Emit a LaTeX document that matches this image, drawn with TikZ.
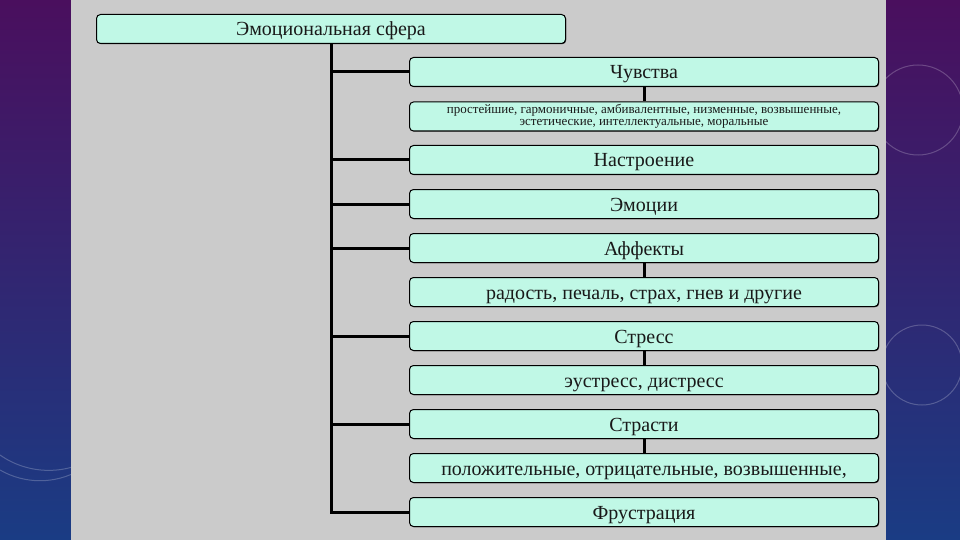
\documentclass[tikz,border=0pt]{standalone}
\usepackage{fontspec}
\setmainfont{Liberation Serif}
\usetikzlibrary{shadows}
\definecolor{bgtop}{HTML}{4A0F5E}
\definecolor{bgbot}{HTML}{1A3C84}
\definecolor{panel}{HTML}{CBCBCB}
\definecolor{mint}{HTML}{C0F8E6}
\tikzset{
  basebox/.style={draw=black, line width=1pt, fill=mint, rounded corners=4pt,
    minimum width=469pt, minimum height=29pt, inner sep=0pt, anchor=north west,
    text=black!90,
    drop shadow={shadow xshift=0.7pt, shadow yshift=-0.7pt, opacity=0.8, fill=black}},
  box/.style={basebox, font=\fontsize{20}{21}\selectfont, text height=14pt, text depth=0pt},
  smallbox/.style={basebox, font=\fontsize{13}{12.5}\selectfont, align=center, yshift=-0.5pt},
  conn/.style={line width=3pt, draw=black},
  deco/.style={draw=white, opacity=0.22, line width=1pt}
}
\begin{document}
\begin{tikzpicture}[x=1pt,y=-1pt]
\useasboundingbox (0,0) rectangle (960,540);
\shade[top color=bgtop, bottom color=bgbot] (0,0) rectangle (960,540);
\draw[deco] (918,110) circle (45);
\draw[deco] (922,365) circle (40);
\draw[deco] (0,470) arc (120:60:80);
\draw[deco] (0,455) arc (125:55:85);
\fill[panel] (71,0) rectangle (886,540);

\node[box] (top) at (96,14) {Эмоциональная сфера};
\node[box] (ch) at (409,57) {Чувства};
\node[smallbox] (chs) at (409,101) {простейшие, гармоничные, амбивалентные, низменные, возвышенные,\\эстетические, интеллектуальные, моральные};
\node[box] (na) at (409,145) {Настроение};
\node[box] (em) at (409,189) {Эмоции};
\node[box] (af) at (409,233) {Аффекты};
\node[box] (afs) at (409,277) {радость, печаль, страх, гнев и другие};
\node[box] (st) at (409,321) {Стресс};
\node[box] (sts) at (409,365) {эустресс, дистресс};
\node[box] (sr) at (409,409) {Страсти};
\node[box] (srs) at (409,453) {положительные, отрицательные, возвышенные,};
\node[box] (fr) at (409,497) {Фрустрация};

\draw[conn] (top.south) |- (fr.west);
\foreach \n in {ch,na,em,af,st,sr}{
  \draw[conn] (top.south |- \n.west) -- (\n.west);
}
\draw[conn] (ch.south) -- (chs.north);
\draw[conn] (af.south) -- (afs.north);
\draw[conn] (st.south) -- (sts.north);
\draw[conn] (sr.south) -- (srs.north);
\end{tikzpicture}
\end{document}
